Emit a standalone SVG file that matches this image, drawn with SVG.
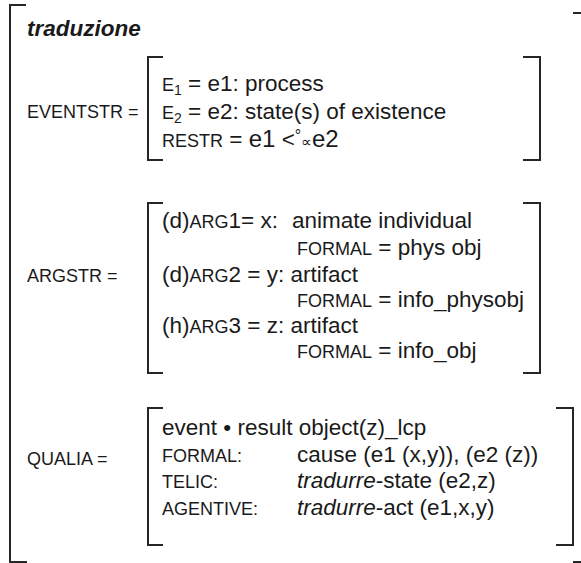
<svg xmlns="http://www.w3.org/2000/svg" width="581" height="563" viewBox="0 0 581 563">
<style>
.br{fill:none;stroke:#262626;stroke-width:2}
text{font-family:"Liberation Sans",Arial,"DejaVu Sans",sans-serif;font-size:22.5px;fill:#1a1a1a}
.sc{font-size:18px}
.sub{font-size:14px}
.it{font-style:italic}
.title{font-weight:bold;font-style:italic}
</style>
<rect width="581" height="563" fill="#ffffff"/>
<g id="outer">
<path class="br" d="M26,5 H10 V562 H27"/>
<path class="br" d="M573,13 H582 V562 H573"/>
</g>
<g id="title">
<text class="title" x="27" y="36">traduzione</text>
</g>
<g id="eventstr">
<text class="sc" x="27" y="118">EVENTSTR =</text>
<path class="br" d="M163,57 H148 V160 H163"/>
<path class="br" d="M523,57 H540 V160 H523"/>
<text x="162" y="91"><tspan class="sc">E</tspan><tspan class="sub" dy="4">1</tspan><tspan dy="-4"> = e1: process</tspan></text>
<text x="162" y="119"><tspan class="sc">E</tspan><tspan class="sub" dy="4">2</tspan><tspan dy="-4"> = e2: state(s) of existence</tspan></text>
<text x="162" y="147"><tspan class="sc">RESTR</tspan> = <tspan font-size="24">e1</tspan> &lt;<tspan font-size="16" dy="-6">°</tspan><tspan font-size="15" dy="6">∝</tspan><tspan font-size="24">e2</tspan></text>
</g>
<g id="argstr">
<text class="sc" x="27" y="282">ARGSTR =</text>
<path class="br" d="M163,203 H148 V373 H163"/>
<path class="br" d="M523,203 H540 V373 H523"/>
<text x="162" y="228">(d)<tspan class="sc">ARG</tspan>1= x:</text>
<text x="292" y="228">animate individual</text>
<text x="297" y="255"><tspan class="sc">FORMAL</tspan> = phys obj</text>
<text x="162" y="282">(d)<tspan class="sc">ARG</tspan>2 = y: artifact</text>
<text x="297" y="307"><tspan class="sc">FORMAL</tspan> = info_physobj</text>
<text x="162" y="333">(h)<tspan class="sc">ARG</tspan>3 = z: artifact</text>
<text x="297" y="358"><tspan class="sc">FORMAL</tspan> = info_obj</text>
</g>
<g id="qualia">
<text class="sc" x="27" y="465">QUALIA =</text>
<path class="br" d="M163,408 H148 V545 H163"/>
<path class="br" d="M556,408 H573 V545 H556"/>
<text x="162" y="435">event • result object(z)_lcp</text>
<text class="sc" x="162" y="462">FORMAL:</text>
<text x="297" y="462">cause (e1 (x,y)), (e2 (z))</text>
<text class="sc" x="162" y="488">TELIC:</text>
<text x="297" y="488"><tspan class="it">tradurre</tspan>-state (e2,z)</text>
<text class="sc" x="162" y="515">AGENTIVE:</text>
<text x="297" y="515"><tspan class="it">tradurre</tspan>-act (e1,x,y)</text>
</g>
</svg>
